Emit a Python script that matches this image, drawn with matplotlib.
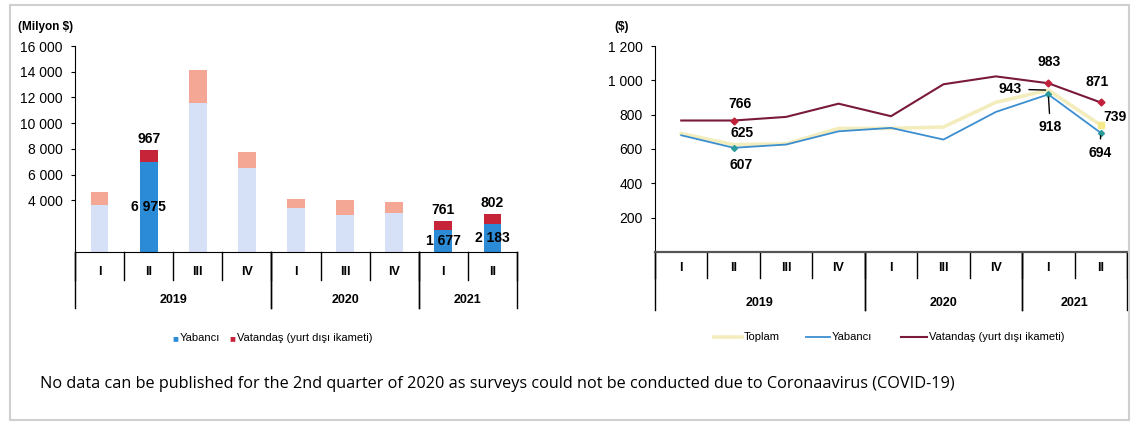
import numpy as np
import matplotlib
matplotlib.use('Agg')
import matplotlib.pyplot as plt
from matplotlib.patches import Rectangle
from matplotlib import font_manager

# =============================================================================
#                                   Data
# =============================================================================

quarters = ['I', 'II', 'III', 'IV', 'I', 'III', 'IV', 'I', 'II']
years = ['2019', '2020', '2021']
year_span = [(-0.5, 3.5), (3.5, 6.5), (6.5, 8.5)]

# left chart - spending, million $
yabanci_mln = [3650, 6975, 11600, 6540, 3420, 2880, 3040, 1677, 2183]
vatandas_mln = [1000, 967, 2500, 1260, 700, 1170, 860, 761, 802]
highlight = [1, 7, 8]

# right chart - average spending per person, $
toplam = [690, 625, 630, 720, 720, 728, 872, 943, 739]
yabanci = [680, 607, 626, 703, 723, 655, 816, 918, 694]
vatandas = [766, 766, 787, 864, 791, 977, 1023, 983, 871]

note = ('No data can be published for the 2nd quarter of 2020 as surveys '
        'could not be conducted due to Coronaavirus (COVID-19)')

# =============================================================================
#                                  Fonts
# =============================================================================

names = {f.name for f in font_manager.fontManager.ttflist}
narrow = 'Liberation Sans Narrow' if 'Liberation Sans Narrow' in names else 'Liberation Sans'
plt.rcParams['font.family'] = [narrow, 'DejaVu Sans']

W, H = 1133, 428
fig = plt.figure(figsize=(W / 100, H / 100), dpi=100)


def px_axes(x0, y0, x1, y1):
    return fig.add_axes([x0 / W, 1 - y1 / H, (x1 - x0) / W, (y1 - y0) / H])


def quarter_axis(ax, q_len, y_len, q_lab, y_lab):
    tr = ax.get_xaxis_transform()
    for k in range(len(quarters) + 1):
        ax.plot([k - 0.5, k - 0.5], [0, q_len], color='black', lw=1.0,
                transform=tr, clip_on=False)
    for a, b in year_span:
        for xx in (a, b):
            ax.plot([xx, xx], [0, y_len], color='black', lw=1.0,
                    transform=tr, clip_on=False)
    for k, q in enumerate(quarters):
        ax.text(k, q_lab, q, transform=tr, ha='center', va='center',
                fontsize=9, fontweight='semibold')
    for (a, b), yr in zip(year_span, years):
        ax.text((a + b) / 2, y_lab, yr, transform=tr, ha='center', va='center',
                fontsize=9, fontweight='semibold')
    ax.set_xticks([])
    ax.set_xlim(-0.5, len(quarters) - 0.5)


def fmt(v):
    return '{:,}'.format(v).replace(',', ' ')


x = np.arange(len(quarters))

# =============================================================================
#                               Left: bars
# =============================================================================

ax1 = px_axes(75, 46, 517, 252)
c_blue = ['#2b8bd6' if i in highlight else '#d6e0f6' for i in x]
c_red = ['#c62539' if i in highlight else '#f4a795' for i in x]
ax1.bar(x, yabanci_mln, width=0.36, color=c_blue)
ax1.bar(x, vatandas_mln, width=0.36, bottom=yabanci_mln, color=c_red)
ax1.set_ylim(0, 16000)
ax1.set_yticks(range(4000, 16001, 2000))
ax1.set_yticklabels([fmt(v) for v in range(4000, 16001, 2000)], fontsize=10)
ax1.tick_params(axis='y', length=3, pad=6)
for s in ['top', 'right']:
    ax1.spines[s].set_visible(False)
quarter_axis(ax1, -0.136, -0.272, -0.097, -0.233)
for i in highlight:
    top = yabanci_mln[i] + vatandas_mln[i]
    ax1.annotate(str(vatandas_mln[i]), (x[i], top), xytext=(0, 11),
                 textcoords='offset pixels', ha='center', va='center',
                 fontsize=10, fontweight='bold')
    ax1.text(x[i], yabanci_mln[i] / 2, fmt(yabanci_mln[i]), ha='center',
             va='center', fontsize=10, fontweight='bold')
fig.text(18 / W, 1 - 27 / H, '(Milyon $)', fontsize=8.5, fontweight='bold',
         va='center')

fig.text(175 / W, 1 - 338 / H, '\u25a0', color='#2b8bd6', fontsize=7,
         va='center', ha='center')
fig.text(180 / W, 1 - 338 / H, 'Yabancı', fontsize=8, va='center')
fig.text(232 / W, 1 - 338 / H, '\u25a0', color='#c62539', fontsize=7,
         va='center', ha='center')
fig.text(237 / W, 1 - 338 / H, 'Vatandaş (yurt dışı ikameti)', fontsize=8,
         va='center')

# =============================================================================
#                               Right: lines
# =============================================================================

ax2 = px_axes(655, 46, 1127, 252)
ax2.plot(x, toplam, color='#f3edbd', lw=2.6, label='Toplam')
ax2.plot(x, yabanci, color='#3b8ed0', lw=1.3, label='Yabancı')
ax2.plot(x, vatandas, color='#7a1a3a', lw=1.5, label='Vatandaş (yurt dışı ikameti)')
ax2.plot(x[highlight], np.array(vatandas)[highlight], 'D', ms=3.5, color='#c0203a')
ax2.plot(x[highlight], np.array(yabanci)[highlight], 'D', ms=3, color='#2a9a9a')
ax2.plot(x[8], toplam[8], 's', ms=5, color='#f6e98a')
ax2.set_ylim(0, 1200)
ax2.set_yticks(range(200, 1201, 200))
ax2.set_yticklabels([fmt(v) for v in range(200, 1201, 200)], fontsize=10)
ax2.tick_params(axis='y', length=3, pad=6)
for s in ['top', 'right']:
    ax2.spines[s].set_visible(False)
ax2.spines['bottom'].set_color('#555555')
ax2.spines['bottom'].set_linewidth(1.6)
quarter_axis(ax2, -0.126, -0.282, -0.078, -0.248)
fig.text(614 / W, 1 - 27 / H, '($)', fontsize=8.5, fontweight='bold',
         va='center')

labels = [
    (vatandas, 1, 6, 17, False), (toplam, 1, 8, 12, False),
    (yabanci, 1, 7, -17, False), (vatandas, 7, 1, 21, False),
    (toplam, 7, -38, 1, True), (yabanci, 7, 2, -33, True),
    (vatandas, 8, -4, 20, False), (toplam, 8, 14, 8, False),
    (yabanci, 8, -1, -20, True),
]
for ser, i, dx, dy, lead in labels:
    ap = dict(arrowstyle='-', color='black', lw=1.0, shrinkA=3, shrinkB=2) if lead else None
    ax2.annotate(str(ser[i]), (x[i], ser[i]), xytext=(dx, dy),
                 textcoords='offset pixels', ha='center', va='center',
                 fontsize=10, fontweight='bold', arrowprops=ap)

leg_y = 1 - 337 / H
for (x0, x1), c, lw, t in [((714, 742), '#f3edbd', 2.6, 'Toplam'),
                           ((806, 830), '#3b8ed0', 1.3, 'Yabancı'),
                           ((901, 927), '#7a1a3a', 1.5, 'Vatandaş (yurt dışı ikameti)')]:
    fig.add_artist(plt.Line2D([x0 / W, x1 / W], [leg_y, leg_y], color=c, lw=lw))
    fig.text((x1 + 2) / W, leg_y, t, fontsize=8, va='center')

# =============================================================================
#                              Note and frame
# =============================================================================

fig.text(40 / W, 1 - 384 / H, note, fontsize=11.7, va='center',
         family=['Open Sans', 'DejaVu Sans'])
fig.add_artist(Rectangle((10 / W, 1 - 420 / H), (W - 14) / W, (420 - 5) / H,
                         transform=fig.transFigure, fill=False,
                         edgecolor='#cfcfcf', lw=1.5))

fig.savefig('out.png', dpi=100)
